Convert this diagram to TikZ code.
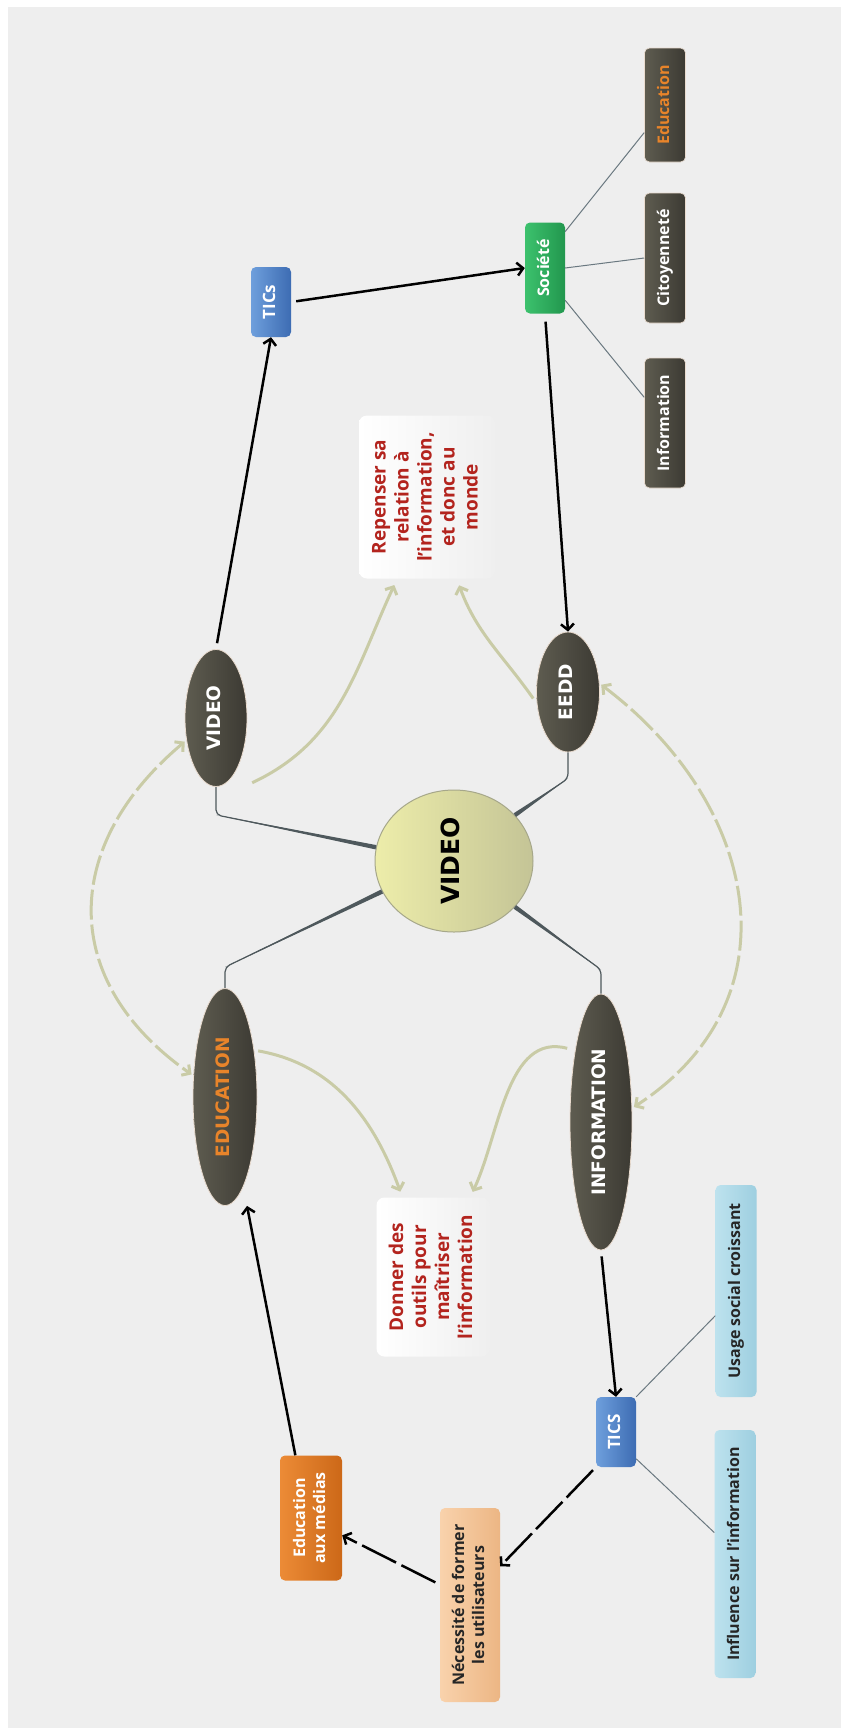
\documentclass[tikz,border=0pt]{standalone}
\usepackage{fontspec}
\setmainfont{Open Sans}
\newfontfamily\ellfont{DejaVu Sans}
\usepackage{graphicx}
\usetikzlibrary{shapes.geometric, arrows.meta, calc}

% couleurs de la carte
\definecolor{bgGrey}{HTML}{EEEEEE}
\definecolor{ellLight}{HTML}{5E5C50}
\definecolor{ellDark}{HTML}{3C3A33}
\definecolor{ellEdge}{HTML}{EADCCF}
\definecolor{hubLight}{HTML}{EDEDAA}
\definecolor{hubDark}{HTML}{C4C496}
\definecolor{hubEdge}{HTML}{A6A78A}
\definecolor{txtRed}{HTML}{B3241E}
\definecolor{txtOrange}{HTML}{E8842A}
\definecolor{blueL}{HTML}{6E9FDC}
\definecolor{blueD}{HTML}{3D6CB3}
\definecolor{greenL}{HTML}{3CC16D}
\definecolor{greenD}{HTML}{22974E}
\definecolor{skyL}{HTML}{BDE2EE}
\definecolor{skyD}{HTML}{9ECFE0}
\definecolor{peachL}{HTML}{F9D2AC}
\definecolor{peachD}{HTML}{ECB684}
\definecolor{orangeL}{HTML}{EC8B36}
\definecolor{orangeD}{HTML}{CC6818}
\definecolor{noteGrey}{HTML}{EFEFEF}
\definecolor{paleCol}{HTML}{C9CBA6}
\definecolor{spokeCol}{HTML}{4E585C}
\definecolor{twigCol}{HTML}{6A7880}

% texte vertical sur plusieurs lignes
\newcommand{\vtxt}[1]{\rotatebox{90}{\begin{tabular}{@{}c@{}}#1\end{tabular}}}

\begin{document}
\begin{tikzpicture}[x=1pt, y=-1pt,
		bubble/.style = {ellipse, draw=ellEdge, line width=0.8pt, left color=ellLight, right color=ellDark, inner sep=0pt, text=white, font=\ellfont\bfseries\fontsize{18.5}{21}\selectfont},
		hubstyle/.style = {ellipse, draw=hubEdge, line width=1pt, left color=hubLight, right color=hubDark, minimum width=158pt, minimum height=142pt, inner sep=0pt, font=\ellfont\bfseries\fontsize{25}{28}\selectfont},
		tagbox/.style = {rectangle, rounded corners=5pt, inner sep=0pt, font=\bfseries\fontsize{16}{20}\selectfont},
		darkbox/.style = {tagbox, draw=ellEdge, line width=0.6pt, left color=ellLight, right color=ellDark, text=white, minimum width=41pt, minimum height=130pt},
		ticsbox/.style = {tagbox, left color=blueL, right color=blueD, text=white, minimum width=40pt, minimum height=70pt, font=\bfseries\fontsize{17}{20}\selectfont},
		socbox/.style = {tagbox, left color=greenL, right color=greenD, text=white, minimum width=40pt, minimum height=91pt},
		skybox/.style = {tagbox, left color=skyL, right color=skyD, text=black!85, minimum width=41pt},
		peachbox/.style = {tagbox, left color=peachL, right color=peachD, text=black!85, minimum width=60pt, minimum height=194pt},
		orangebox/.style = {tagbox, left color=orangeL, right color=orangeD, text=white, minimum width=62pt, minimum height=125pt},
		notebox/.style = {tagbox, rounded corners=8pt, left color=white, right color=noteGrey, text=txtRed, font=\bfseries\fontsize{19}{23}\selectfont},
		flowline/.style = {-{Straight Barb[length=6pt, width=13pt]}, line width=2.5pt, black},
		flowdash/.style = {flowline, dash pattern=on 38pt off 6pt},
		paleline/.style = {-{Straight Barb[length=6pt, width=13pt]}, line width=3pt, paleCol},
		paledash/.style = {paleline, {Straight Barb[length=6pt, width=13pt]}-{Straight Barb[length=6pt, width=13pt]}, dash pattern=on 30pt off 5pt},
		spoke/.style = {spokeCol, line width=1.2pt, rounded corners=5pt},
		twig/.style = {twigCol, line width=1pt}
		]
		
		% --- FOND ---
		\useasboundingbox (0,0) rectangle (848,1735);
		\fill[white] (0,0) rectangle (848,1735);
		\fill[bgGrey] (8,7) rectangle (841,1728);
		
		% --- CENTRE ET BRANCHES PRINCIPALES ---
		\node[hubstyle] (hub) at (454,861) {\vtxt{VIDEO}};
		\node[bubble, minimum width=62pt, minimum height=137pt] (vidE) at (216,718) {\vtxt{VIDEO}};
		\node[bubble, minimum width=63pt, minimum height=120pt] (eedd) at (568,692) {\vtxt{EEDD}};
		\node[bubble, minimum width=64pt, minimum height=217pt, text=txtOrange] (educ) at (225,1097) {\vtxt{EDUCATION}};
		\node[bubble, minimum width=62pt, minimum height=256pt] (info) at (601,1122) {\vtxt{INFORMATION}};
		
		% --- HAUT : TICs ET SOCIETE ---
		\node[ticsbox] (ticsTop) at (271,302) {\vtxt{TICs}};
		\node[socbox] (societe) at (545,268) {\vtxt{Société}};
		\node[darkbox, minimum height=114pt, text=txtOrange] (eduBox) at (665,105) {\vtxt{Education}};
		\node[darkbox] (citBox) at (665,258) {\vtxt{Citoyenneté}};
		\node[darkbox] (infBox) at (665,423) {\vtxt{Information}};
		
		% --- OBJECTIFS ---
		\node[notebox, minimum width=136pt, minimum height=163pt] (repenser) at (427,497) {\vtxt{Repenser sa\\relation à\\l'information,\\et donc au\\monde}};
		\node[notebox, minimum width=113pt, minimum height=159pt] (donner) at (433,1277) {\vtxt{Donner des\\outils pour\\maîtriser\\l'information}};
		
		% --- BAS : TICS ET FORMATION ---
		\node[ticsbox] (ticsBot) at (616,1432) {\vtxt{TICS}};
		\node[skybox, minimum height=212pt] (usage) at (736,1291) {\vtxt{Usage social croissant}};
		\node[skybox, minimum height=248pt] (influence) at (735,1554) {\vtxt{Influence sur l'information}};
		\node[peachbox] (necessite) at (470,1605) {\vtxt{Nécessité de former\\les utilisateurs}};
		\node[orangebox] (edumedia) at (311,1518) {\vtxt{Education\\aux médias}};
		
		% --- LIENS VERS LE CENTRE (effiles) ---
		\coordinate (kVid) at ($(vidE.south)+(0,28)$);
		\coordinate (kEedd) at ($(eedd.south)+(0,26)$);
		\coordinate (kEduc) at ($(educ.north)+(0,-21)$);
		\coordinate (kInfo) at ($(info.north)+(0,-24)$);
		\draw[spoke] (vidE.south) -- (kVid) -- (hub.170);
		\draw[spoke] (eedd.south) -- (kEedd) -- (hub.37);
		\draw[spoke] (educ.north) -- (kEduc) -- (hub.203);
		\draw[spoke] (info.north) -- (kInfo) -- (hub.323);
		\fill[spokeCol] (kVid) -- ($(hub.170)!2.2pt!90:(kVid)$) -- ($(hub.170)!2.2pt!-90:(kVid)$) -- cycle;
		\fill[spokeCol] (kEedd) -- ($(hub.37)!2.2pt!90:(kEedd)$) -- ($(hub.37)!2.2pt!-90:(kEedd)$) -- cycle;
		\fill[spokeCol] (kEduc) -- ($(hub.203)!2.2pt!90:(kEduc)$) -- ($(hub.203)!2.2pt!-90:(kEduc)$) -- cycle;
		\fill[spokeCol] (kInfo) -- ($(hub.323)!2.2pt!90:(kInfo)$) -- ($(hub.323)!2.2pt!-90:(kInfo)$) -- cycle;
		
		% --- SOUS-THEMES ---
		\draw[twig] (societe.61) -- (eduBox.233);
		\draw[twig] (societe.east) -- (citBox.west);
		\draw[twig] (societe.-58) -- (infBox.129);
		\draw[twig] (ticsBot.north east) -- (usage.230);
		\draw[twig] (ticsBot.-53) -- (influence.134);
		
		% --- FLECHES NOIRES ---
		\draw[flowline, shorten <=6pt] (vidE.north) -- (ticsTop.south);
		\draw[flowline, shorten <=5pt] (ticsTop.east) -- (societe.west);
		\draw[flowline, shorten <=8pt] (societe.south) -- (eedd.north);
		\draw[flowline, shorten <=6pt] (info.south) -- (ticsBot.north);
		\draw[flowdash, shorten <=4pt] (ticsBot.south west) -- (necessite.52);
		\draw[flowdash, shorten <=5pt] (necessite.146) -- (edumedia.331);
		\draw[flowline] (edumedia.104) -- ([xshift=22pt]educ.south);
		
		% --- FLECHES CLAIRES ---
		\draw[paleline, shorten >=7pt] ([shift={(14,16)}]vidE.south east) to[out=25, in=-115] (repenser.250);
		\draw[paleline, shorten <=6pt, shorten >=7pt] (eedd.200) to[out=125, in=-70] (repenser.290);
		\draw[paleline, shorten <=4pt, shorten >=6pt] (educ.58) to[out=-10, in=110] (donner.111);
		\draw[paleline, shorten <=8pt, shorten >=6pt] (info.110) to[out=165, in=65] (donner.65);
		
		% --- LIENS EN POINTILLES ---
		\draw[paledash, shorten <=2pt, shorten >=2pt] (vidE.217) to[out=220, in=145, looseness=1.25] (educ.146);
		\draw[paledash, shorten <=2pt, shorten >=2pt] (eedd.15) to[out=-37, in=33, looseness=1.2] (info.24);
		
	\end{tikzpicture}
\end{document}
